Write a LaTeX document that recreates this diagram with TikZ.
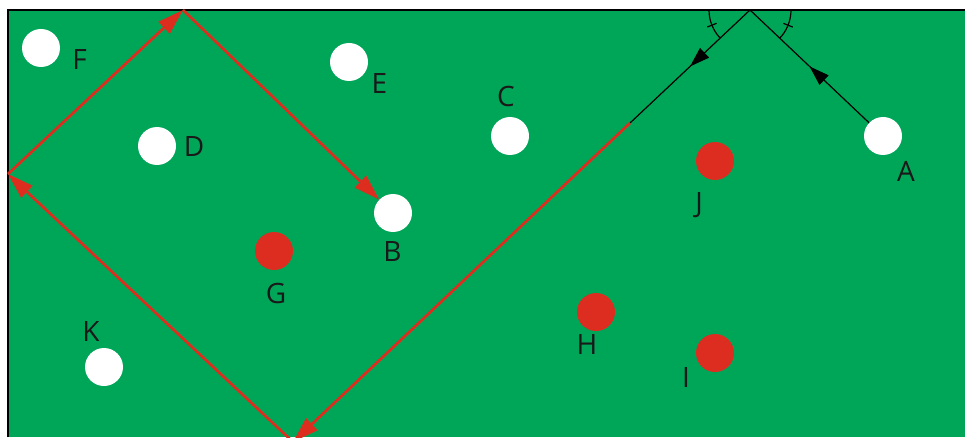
\documentclass[tikz,border=0pt]{standalone}
\usepackage{fontspec}
\setmainfont{Open Sans}
\usetikzlibrary{arrows.meta,decorations.markings}
\definecolor{field}{RGB}{0,166,88}
\definecolor{rayred}{RGB}{221,45,30}
\definecolor{ballred}{RGB}{221,45,32}
\definecolor{ink}{RGB}{25,25,25}
\tikzset{
  wball/.style={circle,fill=white,minimum size=38pt,inner sep=0pt},
  rball/.style={circle,fill=ballred,minimum size=38pt,inner sep=0pt},
  lbl/.style={anchor=base,inner sep=0pt,text=ink,font=\fontsize{28}{30}\selectfont},
  redray/.style={draw=rayred,line width=2.7pt,-{Triangle[length=26pt,width=16pt]}},
  blackray/.style={draw=black,line width=1.2pt,
    decoration={markings,mark=at position 0.5 with {\arrow{Triangle[length=20pt,width=13pt]}}},
    postaction=decorate},
  anglearc/.style={draw=black,line width=1.2pt}
}
\begin{document}
\begin{tikzpicture}[x=1pt,y=1pt]
\useasboundingbox (0,0) rectangle (965,437);
\fill[field] (8,0) rectangle (965,427);
\draw[black,line width=1.5pt] (8,0) -- (8,427) -- (965,427);

% balls
\node[wball] (F) at (41,389) {};
\node[wball] (D) at (157,291) {};
\node[wball] (E) at (349,375) {};
\node[wball] (C) at (510,301) {};
\node[wball] (B) at (393,224) {};
\node[rball] (G) at (274,186) {};
\node[wball] (K) at (104,70) {};
\node[wball] (A) at (883,301) {};
\node[rball] (J) at (715,276) {};
\node[rball] (H) at (596,125) {};
\node[rball] (I) at (715,84) {};

% labels
\node[lbl] (lF) at (79.5,367) {F};
\node[lbl] (lD) at (194,280) {D};
\node[lbl] (lE) at (379.5,343) {E};
\node[lbl] (lC) at (506,330) {C};
\node[lbl] (lB) at (392.5,176) {B};
\node[lbl] (lG) at (276,134) {G};
\node[lbl] (lK) at (91,96) {K};
\node[lbl] (lA) at (906,255) {A};
\node[lbl] (lJ) at (699,225) {J};
\node[lbl] (lH) at (587,83) {H};
\node[lbl] (lI) at (686,50) {I};

% reflection points
\coordinate (apex) at (750,427);
\coordinate (sw) at (630,314);
\coordinate (bot) at (293,-5);
\coordinate (lft) at (8,263);
\coordinate (tp) at (183,427);

% black path
\draw[blackray] (A) -- (apex);
\draw[blackray] (apex) -- (sw);

% red path
\draw[redray] (sw) -- (bot);
\draw[redray] (bot) -- (lft);
\draw[redray] (lft) -- (tp);
\draw[redray] (tp) -- (B);

% angle marks
\draw[anglearc] ([shift={(180:41pt)}]apex) arc[start angle=180,end angle=223.5,radius=41pt];
\draw[anglearc] ([shift={(201.7:36pt)}]apex) -- ([shift={(201.7:46pt)}]apex);
\draw[anglearc] ([shift={(316.5:41pt)}]apex) arc[start angle=316.5,end angle=360,radius=41pt];
\draw[anglearc] ([shift={(338.2:36pt)}]apex) -- ([shift={(338.2:46pt)}]apex);
\end{tikzpicture}
\end{document}
